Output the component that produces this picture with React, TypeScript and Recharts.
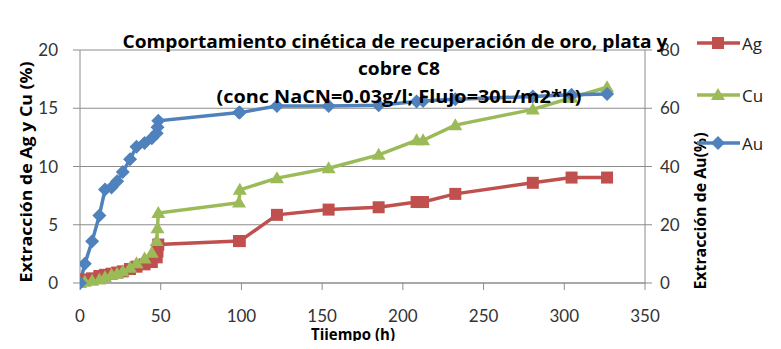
import { LineChart, Line, XAxis, YAxis, CartesianGrid } from 'recharts';

// Tiempo de lixiviación (h), compartido por las tres series
const horas = [
  0, 3, 7.5, 12, 15.5, 19.5, 23, 26.5, 31, 35, 40, 44.5, 47.5, 48, 48.5,
  98.5, 99, 122, 154, 185, 208.5, 212.5, 232.5, 280.5, 304.5, 326.5,
];

// Extracción de plata (%), eje izquierdo
const extraccionAg = [
  0.2, 0.3, 0.4, 0.6, 0.7, 0.8, 0.9, 1.0, 1.2, 1.4, 1.6, 1.8, 2.2, 2.7, 3.3,
  3.6, 3.6, 5.85, 6.3, 6.5, 6.95, 6.95, 7.65, 8.6, 9.05, 9.05,
];

// Extracción de cobre (%), eje izquierdo
const extraccionCu = [
  0.0, 0.1, 0.2, 0.3, 0.5, 0.7, 0.8, 1.0, 1.3, 1.7, 2.1, 2.6, 3.6, 4.7, 6.0,
  6.9, 8.0, 9.0, 9.85, 11.0, 12.25, 12.25, 13.55, 14.9, 15.9, 16.8,
];

// Extracción de oro (%), eje derecho
const extraccionAu = [
  0, 6.6, 14.3, 23.2, 32.1, 32.8, 34.9, 38.1, 42.5, 46.8, 48.1, 49.7, 51.4, 53.5, 55.7,
  58.5, 58.5, 60.8, 60.8, 61.0, 62.3, 62.5, 63.1, 64.0, 64.6, 64.9,
];

const ticksX = [0, 50, 100, 150, 200, 250, 300, 350];
const ticksIzq = [0, 5, 10, 15, 20];
const ticksDer = [0, 20, 40, 60, 80];

const ROJO = '#C0504D';
const VERDE = '#9BBB59';
const AZUL = '#4F81BD';
const GRIS = '#8C8C8C';
const FUENTE = 'Lato, "Open Sans", sans-serif';
const FUENTE_TITULO = '"Open Sans", Lato, sans-serif';

const datos = horas.map((t, i) => ({
  t,
  ag: extraccionAg[i],
  cu: extraccionCu[i],
  au: extraccionAu[i],
}));

type DotProps = { cx?: number; cy?: number; index?: number };

const Cuadrado = ({ cx, cy, index }: DotProps) =>
  cx == null || cy == null ? null : (
    <rect key={`ag-${index}`} x={cx - 6} y={cy - 6} width={12} height={12} fill={ROJO} />
  );

const Triangulo = ({ cx, cy, index }: DotProps) =>
  cx == null || cy == null ? null : (
    <path
      key={`cu-${index}`}
      d={`M${cx},${cy - 7} L${cx + 7},${cy + 5} L${cx - 7},${cy + 5} Z`}
      fill={VERDE}
    />
  );

const Rombo = ({ cx, cy, index }: DotProps) =>
  cx == null || cy == null ? null : (
    <path
      key={`au-${index}`}
      d={`M${cx},${cy - 7} L${cx + 7},${cy} L${cx},${cy + 7} L${cx - 7},${cy} Z`}
      fill={AZUL}
    />
  );

const tickStyle = { fill: '#333', fontSize: 17, fontFamily: FUENTE };

function Leyenda() {
  const items = [
    { nombre: 'Ag', color: ROJO, y: 35, forma: 'cuadrado' },
    { nombre: 'Cu', color: VERDE, y: 87, forma: 'triangulo' },
    { nombre: 'Au', color: AZUL, y: 135, forma: 'rombo' },
  ];
  return (
    <g>
      {items.map((it) => (
        <g key={it.nombre}>
          <line x1={689} x2={732} y1={it.y} y2={it.y} stroke={it.color} strokeWidth={3.5} />
          {it.forma === 'cuadrado' && <Cuadrado cx={710} cy={it.y} />}
          {it.forma === 'triangulo' && <Triangulo cx={710} cy={it.y} />}
          {it.forma === 'rombo' && <Rombo cx={710} cy={it.y} />}
          <text x={734} y={it.y} dominantBaseline="central" fontSize={17} fill="#222">
            {it.nombre}
          </text>
        </g>
      ))}
    </g>
  );
}

export default function App() {
  const W = 765;
  const H = 333;
  return (
    <div style={{ position: 'relative', width: W, height: H, fontFamily: FUENTE }}>
      <div
        style={{ position: 'absolute', left: -1, top: -8, width: 1, height: 349, background: '#9a9a9a' }}
      />
      <LineChart
        width={W}
        height={H}
        data={datos}
        margin={{ top: 42, right: 84, bottom: 0, left: 36 }}
      >
        <CartesianGrid yAxisId="izq" vertical={false} stroke={GRIS} />
        <XAxis
          type="number"
          dataKey="t"
          domain={[0, 350]}
          ticks={ticksX}
          height={58}
          tick={tickStyle}
          tickSize={7}
          tickMargin={20}
          stroke={GRIS}
          allowDataOverflow
        />
        <YAxis
          yAxisId="izq"
          domain={[0, 20]}
          ticks={ticksIzq}
          width={36}
          tick={tickStyle}
          tickSize={7}
          tickMargin={15}
          stroke={GRIS}
        />
        <YAxis
          yAxisId="der"
          orientation="right"
          domain={[0, 80]}
          ticks={ticksDer}
          width={44}
          tick={tickStyle}
          tickSize={7}
          tickMargin={8}
          stroke={GRIS}
        />
        <Line
          yAxisId="izq"
          dataKey="ag"
          stroke={ROJO}
          strokeWidth={3.5}
          dot={(p: DotProps) => <Cuadrado {...p} />}
          isAnimationActive={false}
        />
        <Line
          yAxisId="izq"
          dataKey="cu"
          stroke={VERDE}
          strokeWidth={3.5}
          dot={(p: DotProps) => <Triangulo {...p} />}
          isAnimationActive={false}
        />
        <Line
          yAxisId="der"
          dataKey="au"
          stroke={AZUL}
          strokeWidth={3.5}
          dot={(p: DotProps) => <Rombo {...p} />}
          isAnimationActive={false}
        />
      </LineChart>
      <svg
        width={W}
        height={H + 8}
        style={{ position: 'absolute', left: 0, top: 0, pointerEvents: 'none' }}
        fontFamily={FUENTE_TITULO}
      >
        <g fontWeight="bold" fontSize={17} fill="#000" textAnchor="middle">
          <text x={387} y={40} textLength={545} lengthAdjust="spacingAndGlyphs">
            Comportamiento cinética de recuperación de oro, plata y
          </text>
          <text x={391} y={67} textLength={82} lengthAdjust="spacingAndGlyphs">
            cobre C8
          </text>
          <text x={391} y={95} textLength={365} lengthAdjust="spacingAndGlyphs">
            (conc NaCN=0.03g/l; Flujo=30L/m2*h)
          </text>
        </g>
        <text
          x={18}
          y={164}
          transform="rotate(-90 18 164)"
          textAnchor="middle"
          dominantBaseline="central"
          fontWeight="bold"
          fontSize={16}
          textLength={221}
          lengthAdjust="spacingAndGlyphs"
        >
          Extracción de Ag y Cu (%)
        </text>
        <text
          x={692}
          y={203}
          transform="rotate(-90 692 203)"
          textAnchor="middle"
          dominantBaseline="central"
          fontWeight="bold"
          fontSize={16}
          textLength={157}
          lengthAdjust="spacingAndGlyphs"
        >
          Extracción de Au(%)
        </text>
        <text
          x={345}
          y={332}
          textAnchor="middle"
          fontWeight="bold"
          fontSize={16}
          textLength={84}
          lengthAdjust="spacingAndGlyphs"
        >
          Tiiempo (h)
        </text>
        <Leyenda />
      </svg>
    </div>
  );
}
